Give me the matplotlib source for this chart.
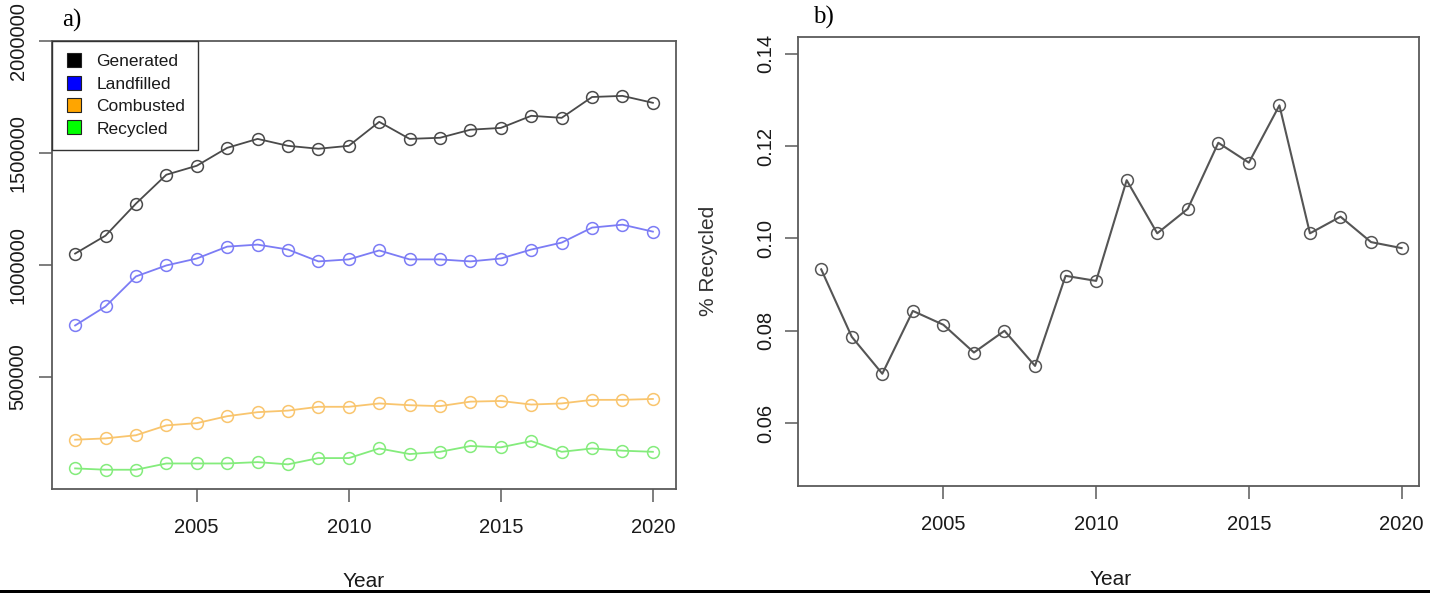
import matplotlib
matplotlib.use('Agg')
import matplotlib.pyplot as plt
from matplotlib.patches import Rectangle
from matplotlib.lines import Line2D

# ---------------- data ----------------
years = list(range(2001, 2021))
generated = [1051000, 1131000, 1274000, 1403000, 1443000, 1523000, 1563000, 1532000, 1519000, 1532000,
             1639000, 1563000, 1568000, 1604000, 1612000, 1666000, 1657000, 1750000, 1755000, 1724000]
landfilled = [730000, 815000, 949000, 998000, 1029000, 1082000, 1091000, 1069000, 1016000, 1025000,
              1065000, 1025000, 1025000, 1016000, 1029000, 1069000, 1100000, 1167000, 1180000, 1149000]
combusted = [220000, 226000, 240000, 284000, 294000, 325000, 343000, 350000, 367000, 367000,
             382000, 374000, 370000, 390000, 393000, 377000, 382000, 398000, 398000, 402000]
recycled = [92000, 86000, 86000, 114000, 114000, 114000, 120000, 110000, 138000, 138000,
            181000, 156000, 166000, 192000, 186000, 214000, 166000, 181000, 171000, 166000]
pct_recycled = [0.0933, 0.0787, 0.0707, 0.0843, 0.0813, 0.0753, 0.0800, 0.0724, 0.0919, 0.0908,
                0.1126, 0.1011, 0.1064, 0.1207, 0.1164, 0.1288, 0.1011, 0.1047, 0.0992, 0.0979]

series_labels = ['Generated', 'Landfilled', 'Combusted', 'Recycled']
legend_colors = ['#000000', '#0000FF', '#FFA500', '#00FF00']
line_colors = ['#4a4a4a', '#7c7cf5', '#f9c56e', '#84ec7c']

left_yticks = [500000, 1000000, 1500000, 2000000]
left_yticklabels = ['500000', '1000000', '1500000', '2000000']
xticks = [2005, 2010, 2015, 2020]
right_yticks = [0.06, 0.08, 0.10, 0.12, 0.14]
right_yticklabels = ['0.06', '0.08', '0.10', '0.12', '0.14']

# ---------------- style ----------------
plt.rcParams['font.family'] = ['Liberation Sans', 'DejaVu Sans']
W, H = 1430, 593
fig = plt.figure(figsize=(W / 100, H / 100), dpi=100)


def ax_rect(l, t, r, b):
    return [l / W, 1 - b / H, (r - l) / W, (b - t) / H]


spine_col = '#5a5a5a'
text_col = '#1a1a1a'

ax1 = fig.add_axes(ax_rect(52, 41, 676, 489))
ax2 = fig.add_axes(ax_rect(798, 37, 1419, 486))

for ax in (ax1, ax2):
    for s in ax.spines.values():
        s.set_color(spine_col)
        s.set_linewidth(1.3)
    ax.tick_params(axis='both', direction='out', length=9.5, width=1.1, color=spine_col,
                   labelsize=14.5, labelcolor=text_col)
    ax.tick_params(axis='x', pad=11.5)
    ax.set_xticks(xticks)
    ax.set_xticklabels([str(x) for x in xticks])

# ---- panel a ----
series = [generated, landfilled, combusted, recycled]
for vals, col in zip(series, line_colors):
    ax1.plot(years, vals, color=col, lw=1.3, marker='o', ms=8.5, mfc='none', mec=col, mew=1.1)
ax1.set_xlim(2000.24, 2020.76)
ax1.set_ylim(0, 2000000)
ax1.set_yticks(left_yticks)
ax1.set_yticklabels(left_yticklabels)
ax1.tick_params(axis='y', labelrotation=90, pad=8)
for lbl in ax1.get_yticklabels():
    lbl.set_va('center')

handles = [Line2D([], [], ls='none', marker='s', ms=10, mfc=c, mec='#222222', mew=0.8)
           for c in legend_colors]
leg = ax1.legend(handles, series_labels, loc='upper left', bbox_to_anchor=(0, 1),
                 borderaxespad=0, fancybox=False, framealpha=1, edgecolor='#333333',
                 fontsize=12.5, handlelength=1.0, handletextpad=0.8, borderpad=0.75,
                 labelspacing=0.42)
leg.get_frame().set_linewidth(1.0)
for t in leg.get_texts():
    t.set_color(text_col)

# ---- panel b ----
ax2.plot(years, pct_recycled, color='#555555', lw=1.5, marker='o', ms=8.5, mfc='none',
         mec='#555555', mew=1.1)
ax2.set_xlim(2000.24, 2020.57)
ax2.set_ylim(0.0464, 0.1436)
ax2.set_yticks(right_yticks)
ax2.set_yticklabels(right_yticklabels)
ax2.tick_params(axis='y', labelrotation=90, pad=7)
for lbl in ax2.get_yticklabels():
    lbl.set_va('center')

# axis titles
fig.text(364 / W, 1 - 587 / H, 'Year', ha='center', va='baseline', fontsize=15, color=text_col)
fig.text(1111 / W, 1 - 585 / H, 'Year', ha='center', va='baseline', fontsize=15, color=text_col)
fig.text(709 / W, 1 - 261 / H, '% Recycled', ha='center', va='center', rotation=90,
         fontsize=15, color='#333333')

# panel tags
fig.text(62 / W, 1 - 27 / H, 'a)', ha='left', va='baseline', fontsize=18,
         family=['Liberation Serif', 'DejaVu Serif'], color='black')
fig.text(813 / W, 1 - 24 / H, 'b)', ha='left', va='baseline', fontsize=18,
         family=['Liberation Serif', 'DejaVu Serif'], color='black')

# bottom black rule
fig.add_artist(Rectangle((0, 0), 1, 3 / H, transform=fig.transFigure,
                         facecolor='black', edgecolor='none'))

fig.savefig('out.png', dpi=100)
